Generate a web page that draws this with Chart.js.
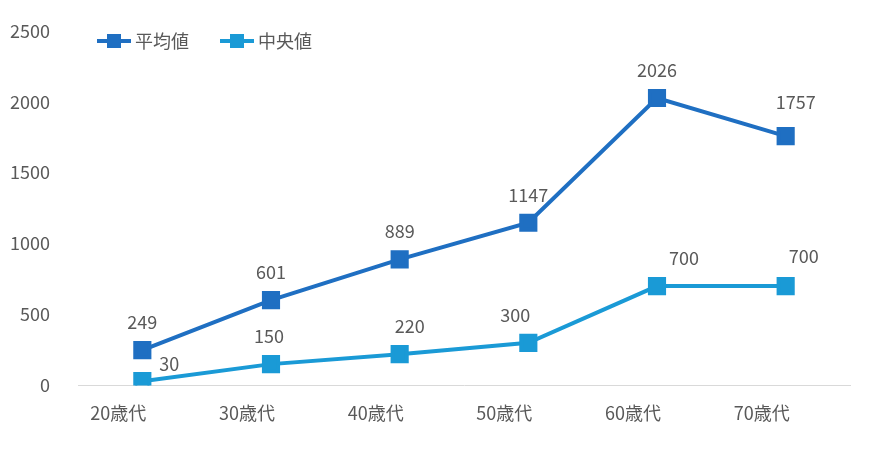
<!DOCTYPE html>
<html><head><meta charset="utf-8">
<script src="https://cdn.jsdelivr.net/npm/chart.js@4"></script>
<style>body{margin:0;background:#fff}#w{width:870px;height:451px;position:relative}</style>
</head><body><div id="w"><canvas id="c"></canvas></div>
<script>
const categories=["20歳代","30歳代","40歳代","50歳代","60歳代","70歳代"];
const meanValues=[249,601,889,1147,2026,1757];
const medianValues=[30,150,220,300,700,700];
const yTicks=[0,500,1000,1500,2000,2500];
const seriesNames=["平均値","中央値"];
const colors=["#1f6fc2","#1a9ad6"];
const font="'Noto Sans CJK JP','Noto Sans',sans-serif";
const labelOffsets=[[[0,-28],[0,-28],[0,-28],[0,-28],[0,-28],[10,-34]],[[27,-17],[-2,-28],[10,-28],[-13,-28],[27,-28],[18,-30]]];
const plug={id:'p',afterDatasetsDraw(ch){
 const c=ch.ctx;c.save();c.font="18px "+font;c.fillStyle="#595959";c.textAlign="center";c.textBaseline="middle";
 ch.data.datasets.forEach((d,i)=>{ch.getDatasetMeta(i).data.forEach((pt,j)=>{const o=labelOffsets[i][j];c.fillText(d.data[j],pt.x+o[0],pt.y+o[1]);});});
 const lx=[97,220];
 seriesNames.forEach((n,i)=>{const x=lx[i],y=41;c.strokeStyle=colors[i];c.lineWidth=4;c.beginPath();c.moveTo(x,y);c.lineTo(x+34,y);c.stroke();c.fillStyle=colors[i];c.fillRect(x+10,y-7,14,14);c.fillStyle="#595959";c.textAlign="left";c.fillText(n,x+38,y);});
 c.restore();}};
new Chart(document.getElementById('c'),{type:'line',
data:{labels:categories,datasets:[meanValues,medianValues].map((v,i)=>({label:seriesNames[i],data:v,borderColor:colors[i],backgroundColor:colors[i],borderWidth:4,pointStyle:'rect',pointRadius:10,pointHoverRadius:10,tension:0}))},
options:{responsive:true,maintainAspectRatio:false,animation:false,layout:{padding:{left:0,right:20,top:1,bottom:10}},
plugins:{legend:{display:false},tooltip:{enabled:false}},
scales:{x:{offset:true,grid:{display:false,drawTicks:false},border:{color:'#d9d9d9'},ticks:{color:'#595959',font:{size:18,family:font},padding:17,labelOffset:-24}},
y:{min:0,max:2500,afterBuildTicks:s=>{s.ticks=yTicks.map(v=>({value:v}));},afterFit:s=>{s.width=78;},grid:{display:false},border:{display:false},ticks:{color:'#595959',font:{size:18,family:font},padding:20,callback:v=>String(v)}}}},
plugins:[plug]});
</script></body></html>
